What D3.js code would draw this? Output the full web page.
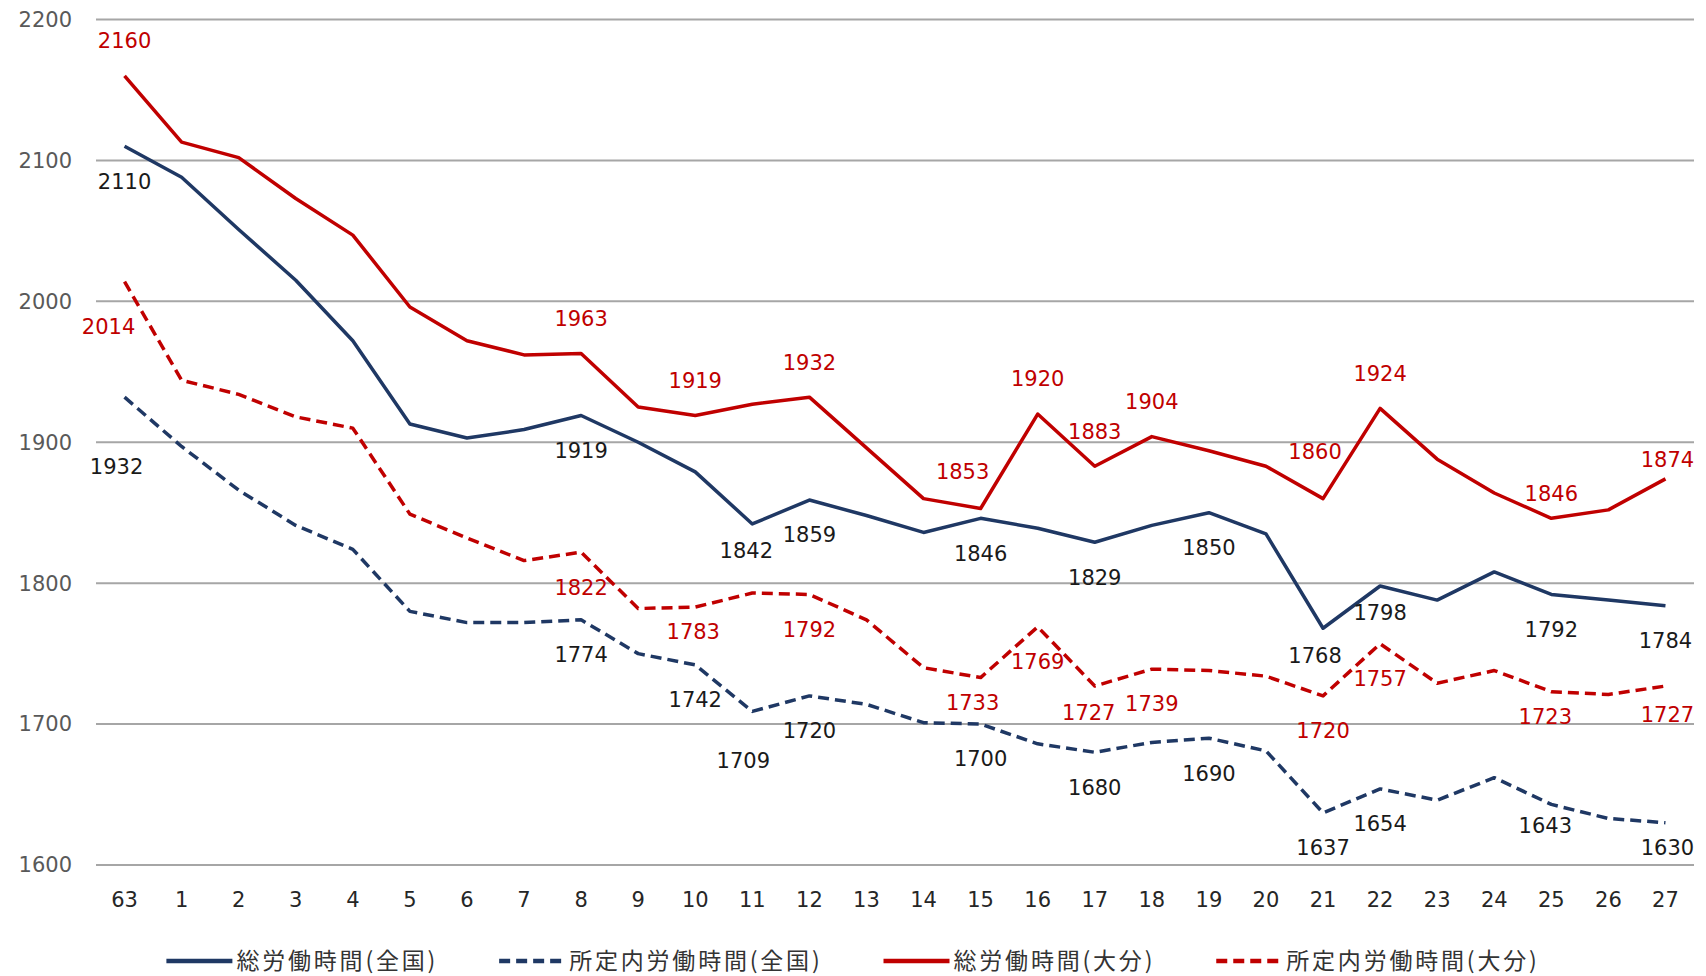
<!DOCTYPE html>
<html>
<head>
<meta charset="utf-8">
<script src="https://cdn.jsdelivr.net/npm/d3@7"></script>
<style>
  body { margin: 0; background: #fff; }
  svg { display: block; }
  .tick-y { font-family: "DejaVu Sans", sans-serif; font-size: 21px; fill: #595959; }
  .tick-x { font-family: "DejaVu Sans", sans-serif; font-size: 21px; fill: #262626; }
  .label { font-family: "DejaVu Sans", sans-serif; font-size: 21px; }
  .legend text { font-family: "Noto Sans CJK JP", sans-serif; font-size: 23px; fill: #333; letter-spacing: 2.8px; }
</style>
</head>
<body>
<svg></svg>
<script>
// years: showa 63, then heisei 1..27
const years = ['63', '1', '2', '3', '4', '5', '6', '7', '8', '9', '10', '11', '12', '13',
  '14', '15', '16', '17', '18', '19', '20', '21', '22', '23', '24', '25', '26', '27'];

const totalNation = [2110, 2088, 2051, 2015, 1972, 1913, 1903, 1909, 1919, 1900, 1879, 1842, 1859, 1848,
  1836, 1846, 1839, 1829, 1841, 1850, 1835, 1768, 1798, 1788, 1808, 1792, 1788, 1784];
const schedNation = [1932, 1897, 1866, 1841, 1824, 1780, 1772, 1772, 1774, 1750, 1742, 1709, 1720, 1714,
  1701, 1700, 1686, 1680, 1687, 1690, 1681, 1637, 1654, 1646, 1662, 1643, 1633, 1630];
const totalOita = [2160, 2113, 2102, 2073, 2047, 1996, 1972, 1962, 1963, 1925, 1919, 1927, 1932, 1896,
  1860, 1853, 1920, 1883, 1904, 1894, 1883, 1860, 1924, 1888, 1864, 1846, 1852, 1874];
const schedOita = [2014, 1944, 1934, 1918, 1910, 1849, 1832, 1816, 1822, 1782, 1783, 1793, 1792, 1774,
  1740, 1733, 1769, 1727, 1739, 1738, 1734, 1720, 1757, 1729, 1738, 1723, 1721, 1727];

const yTicks = [1600, 1700, 1800, 1900, 2000, 2100, 2200];

const seriesNames = ['総労働時間(全国)', '所定内労働時間(全国)', '総労働時間(大分)', '所定内労働時間(大分)'];

// which points get a value label
const labelledNation = ['63', '8', '11', '12', '15', '17', '19', '21', '22', '25', '27'];
const labelledSchedNation = ['63', '8', '10', '11', '12', '15', '17', '19', '21', '22', '25', '27'];
const labelledOita = ['63', '8', '10', '12', '15', '16', '17', '18', '21', '22', '25', '27'];

const WIDTH = 1706, HEIGHT = 976;
const NAVY = '#1f3864', RED = '#c00000';

const svg = d3.select('svg').attr('width', WIDTH).attr('height', HEIGHT);

const x = d3.scalePoint().domain(years).range([96, 1694]).padding(0.5);
const y = d3.scaleLinear().domain([1600, 2200]).range([865, 19.5]);

// grid
svg.append('g')
  .selectAll('line')
  .data(yTicks)
  .join('line')
  .attr('x1', 96).attr('x2', 1694)
  .attr('y1', d => y(d)).attr('y2', d => y(d))
  .attr('stroke', '#a6a6a6').attr('stroke-width', 2);

svg.append('g')
  .selectAll('text')
  .data(yTicks)
  .join('text')
  .classed('tick-y', true)
  .attr('x', 72).attr('y', d => y(d))
  .attr('text-anchor', 'end').attr('dy', '0.35em')
  .text(d => d);

svg.append('g')
  .selectAll('text')
  .data(years)
  .join('text')
  .classed('tick-x', true)
  .attr('x', d => x(d)).attr('y', 900)
  .attr('text-anchor', 'middle').attr('dy', '0.35em')
  .text(d => d);

const series = [
  { name: seriesNames[0], values: totalNation, color: NAVY, dash: null, labels: labelledNation, text: '#1a1a1a', side: 1 },
  { name: seriesNames[1], values: schedNation, color: NAVY, dash: '11,6', labels: labelledSchedNation, text: '#1a1a1a', side: 1 },
  { name: seriesNames[2], values: totalOita, color: RED, dash: null, labels: labelledOita, text: RED, side: -1 },
  { name: seriesNames[3], values: schedOita, color: RED, dash: '11,6', labels: labelledOita, text: RED, side: 1 }
];

// small nudges so labels sit where the original put them
const nudge = {
  '1:63': [-8, 34], '1:11': [-9, 14],
  '0:11': [-6, -8], '0:21': [-8, -8], '0:22': [0, -8],
  '1:25': [-6, -14], '1:27': [2, -10],
  '3:63': [-16, 10], '3:10': [-2, -10], '3:15': [-8, -10], '3:17': [-6, -8], '3:25': [-6, -10], '3:27': [2, -6],
  '2:15': [-18, -2], '2:21': [-8, -12], '2:25': [0, 10], '2:27': [2, 16]
};

const line = d3.line()
  .x((d, i) => x(years[i]))
  .y(d => y(d));

series.forEach(s => {
  svg.append('path')
    .datum(s.values)
    .attr('fill', 'none')
    .attr('stroke', s.color)
    .attr('stroke-width', 3.5)
    .attr('stroke-linejoin', 'round')
    .attr('stroke-dasharray', s.dash)
    .attr('d', line);
});

series.forEach((s, si) => {
  const pts = years.map((yr, i) => ({ yr, v: s.values[i] })).filter(p => s.labels.includes(p.yr));
  svg.append('g')
    .selectAll('text')
    .data(pts)
    .join('text')
    .classed('label', true)
    .attr('fill', s.text)
    .attr('text-anchor', 'middle')
    .attr('dy', '0.35em')
    .attr('x', p => x(p.yr) + (nudge[si + ':' + p.yr] || [0, 0])[0])
    .attr('y', p => y(p.v) + s.side * 35 + (nudge[si + ':' + p.yr] || [0, 0])[1])
    .text(p => p.v);
});

// legend
const legend = svg.append('g').classed('legend', true);
let cx = 0;
series.forEach(s => {
  const g = legend.append('g').attr('transform', `translate(${cx},0)`);
  g.append('line')
    .attr('x1', 0).attr('x2', 66).attr('y1', 0).attr('y2', 0)
    .attr('stroke', s.color).attr('stroke-width', 4.5)
    .attr('stroke-dasharray', s.dash ? '11,6' : null);
  const t = g.append('text').attr('x', 70).attr('dy', '0.35em').text(s.name);
  cx += 70 + t.node().getComputedTextLength() + 61;
});
cx -= 61;
legend.attr('transform', `translate(${(WIDTH - cx) / 2},961)`);
</script>
</body>
</html>
